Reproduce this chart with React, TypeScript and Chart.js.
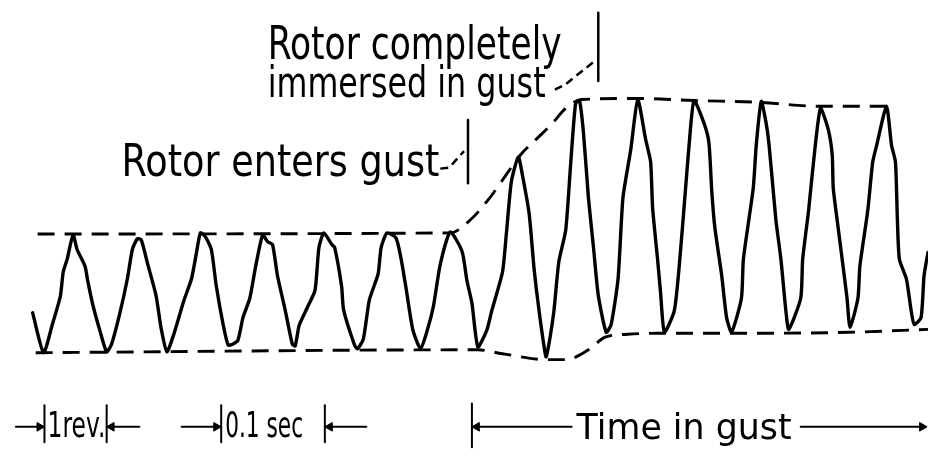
import React, { useEffect, useRef } from "react";
import { Chart, registerables } from "chart.js";

Chart.register(...registerables);

// Time in milliseconds, blade bending amplitude in % of the pre-gust peak-to-peak value
const traceTimeMs = [
  0, 10.5, 19.0, 26.7, 29.5, 33.3, 39.0, 42.9, 50.5, 53.3, 58.1, 64.8, 71.4,
  76.2, 83.8, 91.4, 96.2, 101.0, 104.8, 110.5, 119.0, 123.8, 129.5,
  136.2, 145.7, 153.3, 158.1, 161.9, 166.7, 172.4, 177.1, 183.8, 188.6, 193.3, 198.1,
  202.9, 209.5, 215.2, 221.9, 226.7, 231.4, 236.2, 243.8, 250.5, 253.3,
  257.1, 264.8, 272.4, 276.2, 281.0, 288.6, 291.4, 298.1, 300.0, 310.5, 313.3,
  319.0, 324.8, 333.3, 336.2, 341.9, 350.5, 355.2, 360.0, 366.7, 374.3,
  381.0, 386.7, 393.3, 402.9, 414.3, 419.0, 423.8, 429.5,
  438.1, 442.9, 453.3, 457.1, 461.9, 468.6, 472.4, 479.0, 483.8, 488.6, 495.2,
  498.1, 502.9, 507.6, 514.3, 519.0, 523.8, 527.6, 531.4, 536.2, 541.0, 545.7, 553.3,
  558.1, 564.8, 569.5, 577.1, 583.8, 591.4, 596.2, 598.1, 602.9, 605.7, 609.5,
  619.0, 623.8, 629.5, 633.3, 638.1, 647.6, 652.4, 655.2, 658.1, 664.8, 669.5, 674.3,
  683.8, 685.7, 695.2, 698.1, 702.9, 707.6, 710.5, 717.1, 721.9, 726.7, 729.5,
  741.0, 742.9, 748.6, 752.4, 760.0, 767.6, 771.4, 772.4, 776.2, 781.0, 785.7, 788.6,
  796.2, 798.1, 805.7, 810.5, 814.3, 823.8, 828.6, 832.4, 834.3, 836.2, 842.9, 847.6, 850.5,
  857.1, 860.0, 863.8,
];
const traceAmpPct = [
  33.3, -0.8, 23.3, 47.5, 68.3, 79.2, 100, 87.5, 73.3, 60, 40, 18.3, 0,
  6.7, 31.7, 62.5, 87.5, 96.7, 95.8, 76.7, 48.3, 20.8, 0,
  15, 43.3, 62.5, 85, 101.7, 98.3, 87.5, 56.7, 23.3, 5.8, 6.7, 10,
  29.2, 45.8, 73.3, 100, 94.2, 91.7, 65, 35, 6.7, 5,
  22.5, 37.5, 52.5, 89.2, 101.7, 91.7, 89.2, 55.8, 35.8, 5.8, 2.5,
  10.8, 44.2, 66.7, 89.2, 101.7, 97.5, 80.8, 55.8, 19.2, 2.5,
  19.2, 39.2, 75, 102.5, 85.8, 60.8, 41.7, 4.2,
  18.3, 35, 68.3, 101.7, 145.8, 166.7, 151.7, 118.3, 70.8, 35, -4.2,
  6.7, 35, 76.7, 104.2, 160, 212.5, 215, 187.5, 131.7, 90, 48.3, 16.7,
  23.3, 62.5, 131.7, 173.3, 215.8, 181.7, 162.5, 123.3, 79.2, 51.7, 16.7,
  35, 73.3, 135, 176.7, 215, 195.8, 179.2, 137.5, 106.7, 65, 29.2, 16.7,
  45.8, 79.2, 140, 176.7, 214.2, 195.8, 176.7, 112.5, 79.2, 35, 19.2,
  45.8, 79.2, 120.8, 154.2, 208.3, 190, 168.3, 140, 112.5, 79.2, 45.8, 20.8,
  45.8, 73.3, 120.8, 162.5, 176.7, 210, 176.7, 162.5, 112.5, 79.2, 62.5, 35, 23.3,
  29.2, 65, 85,
];

const upperEnvTimeMs = [4.8, 402.9, 421.9, 441.0, 459.0, 471.4, 485.7, 501.0, 514.3, 529.5, 583.8, 638.1, 702.9, 760.0, 824.8];
const upperEnvAmpPct = [100.8, 101.7, 112.5, 131.7, 154.2, 169.2, 181.7, 195.0, 208.3, 215.8, 216.7, 215.0, 213.3, 210.0, 210.0];
const lowerEnvTimeMs = [2.9, 429.5, 453.3, 495.2, 514.3, 536.2, 552.4, 574.3, 602.9, 672.4, 788.6, 863.8];
const lowerEnvAmpPct = [-0.8, 1.7, -1.7, -6.7, -6.7, 1.7, 12.5, 15.0, 15.8, 15.8, 16.7, 19.2];

// Gust markers: "Rotor enters gust", "Rotor completely immersed in gust"
const markerTimeMs = [420.0, 545.7];
const markerTopPct = [198.3, 290.0];
const markerBottomPct = [144.2, 231.7];
const leaderTimeMs = [[393.3, 401.9, 416.2], [503.8, 513.3, 542.9]];
const leaderAmpPct = [[156.7, 157.5, 171.7], [224.2, 228.3, 249.2]];

// Scale bars under the trace: 1 rev, 0.1 sec, time in gust
const scaleBarTimeMs = [11.4, 71.4, 181.9, 281.9, 423.8];
const scaleBarTopPct = [-45.8, -45.8, -45.8, -45.8, -44.2];
const scaleBarBottomPct = [-77.5, -77.5, -77.5, -77.5, -81.7];
const arrowTailMs = [-16.2, 102.9, 143.8, 321.9, 520.0, 741.0];
const arrowTipMs = [11.4, 71.4, 181.9, 281.9, 423.8, 862.9];
const arrowLevelPct = -64.2;

const annotationTexts = ["Rotor completely", "immersed in gust", "Rotor enters gust", "1rev.", "0.1 sec", "Time in gust"];
const annotationTimeMs = [226.7, 226.7, 85.7, 14.3, 185.7, 524.8];
const annotationAmpPct = [250.8, 218.3, 150.0, -73.3, -73.3, -75.0];

// layout of the lettering (pixels)
const annotationWidthPx = [294, 278, 318, 58, 78, 215];
const annotationSizePx = [46, 42, 45, 36, 36, 35];

const W = 934;
const H = 462;
const X_MIN = -25.71;
const X_MAX = 863.81;
const Y_MIN = -89.17;
const Y_MAX = 295.83;

const FONT = '"DejaVu Sans", "Liberation Sans", "Noto Sans", sans-serif';

const lettering = {
  id: "lettering",
  afterDatasetsDraw(chart: any) {
    const ctx = chart.ctx as CanvasRenderingContext2D;
    const xs = chart.scales.x;
    const ys = chart.scales.y;
    annotationTexts.forEach((t, i) => {
      const px = xs.getPixelForValue(annotationTimeMs[i]);
      const py = ys.getPixelForValue(annotationAmpPct[i]);
      ctx.save();
      ctx.font = `${annotationSizePx[i]}px ${FONT}`;
      ctx.fillStyle = "#000";
      ctx.textBaseline = "alphabetic";
      ctx.textAlign = "left";
      const m = ctx.measureText(t).width || 1;
      ctx.translate(px, py);
      ctx.scale(annotationWidthPx[i] / m, 1);
      ctx.fillText(t, 0, 0);
      ctx.restore();
    });
  },
};

function line(points: { x: number; y: number }[], extra: any = {}) {
  return {
    data: points,
    showLine: true,
    borderColor: "#000",
    backgroundColor: "#000",
    pointRadius: 0,
    pointHoverRadius: 0,
    fill: false,
    borderJoinStyle: "round",
    borderCapStyle: "round",
    ...extra,
  };
}

export default function App() {
  const ref = useRef<HTMLCanvasElement | null>(null);
  useEffect(() => {
    document.body.style.margin = "0";
    const canvas = ref.current;
    if (!canvas) return;
    const msPerPx = (X_MAX - X_MIN) / W;
    const headR = 5;

    const datasets: any[] = [];
    datasets.push(
      line(traceTimeMs.map((x, i) => ({ x, y: traceAmpPct[i] })), { borderWidth: 3.4, tension: 0.2 })
    );
    datasets.push(
      line(upperEnvTimeMs.map((x, i) => ({ x, y: upperEnvAmpPct[i] })), {
        borderWidth: 2.9, borderDash: [17, 10], borderCapStyle: "butt", cubicInterpolationMode: "monotone",
      })
    );
    datasets.push(
      line(lowerEnvTimeMs.map((x, i) => ({ x, y: lowerEnvAmpPct[i] })), {
        borderWidth: 2.9, borderDash: [17, 10], borderCapStyle: "butt", cubicInterpolationMode: "monotone",
      })
    );
    markerTimeMs.forEach((x, i) => {
      datasets.push(line([{ x, y: markerBottomPct[i] }, { x, y: markerTopPct[i] }], { borderWidth: 2.5 }));
      datasets.push(
        line(leaderTimeMs[i].map((lx, j) => ({ x: lx, y: leaderAmpPct[i][j] })), {
          borderWidth: 2.5, borderDash: [8, 5], borderCapStyle: "butt",
        })
      );
    });
    scaleBarTimeMs.forEach((x, i) => {
      datasets.push(line([{ x, y: scaleBarBottomPct[i] }, { x, y: scaleBarTopPct[i] }], { borderWidth: 2 }));
    });
    arrowTipMs.forEach((tip, i) => {
      const dir = tip > arrowTailMs[i] ? 1 : -1;
      const headCenter = tip - dir * headR * msPerPx;
      datasets.push(
        line(
          [
            { x: arrowTailMs[i], y: arrowLevelPct },
            { x: headCenter, y: arrowLevelPct },
          ],
          {
            borderWidth: 2,
            pointRadius: [0, headR],
            pointStyle: "triangle",
            rotation: dir > 0 ? 90 : 270,
            pointBorderWidth: 1,
          }
        )
      );
    });

    const chart = new Chart(canvas, {
      type: "scatter",
      data: { datasets },
      options: {
        responsive: false,
        animation: false,
        devicePixelRatio: 1,
        layout: { padding: 0 },
        events: [],
        plugins: { legend: { display: false }, tooltip: { enabled: false }, title: { display: false } },
        scales: {
          x: { type: "linear", min: X_MIN, max: X_MAX, display: false },
          y: { type: "linear", min: Y_MIN, max: Y_MAX, display: false },
        },
      },
      plugins: [lettering],
    } as any);
    return () => chart.destroy();
  }, []);

  return (
    <div style={{ position: "fixed", left: 0, top: 0, width: W, height: H, background: "#fff" }}>
      <canvas ref={ref} width={W} height={H} style={{ display: "block", width: W, height: H }} />
    </div>
  );
}
